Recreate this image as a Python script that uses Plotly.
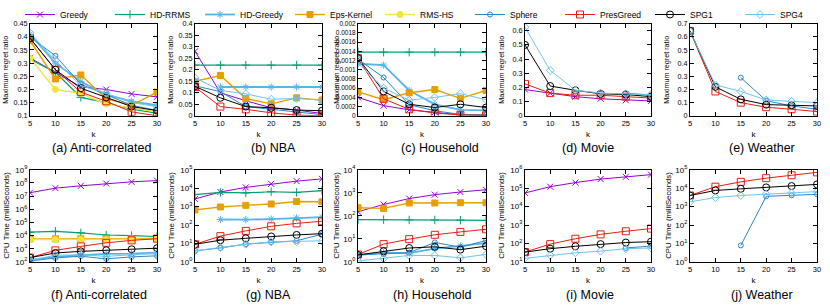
import plotly.graph_objects as go

K = [5, 10, 15, 20, 25, 30]
SERIES = ["Greedy", "HD-RRMS", "HD-Greedy", "Eps-Kernel", "RMS-HS",
          "Sphere", "PresGreed", "SPG1", "SPG4"]
N = None

# ---- Maximum regret ratio (top row) ----
mrr_anti = {
    "Greedy":     [0.32, 0.265, 0.21, 0.2, 0.183, 0.172],
    "HD-RRMS":    [0.315, 0.265, 0.17, 0.15, 0.125, 0.11],
    "HD-Greedy":  [0.41, 0.3, 0.23, 0.18, 0.155, 0.14],
    "Eps-Kernel": [0.385, 0.24, 0.255, 0.165, 0.14, 0.19],
    "RMS-HS":     [0.32, 0.2, 0.185, 0.145, 0.13, 0.115],
    "Sphere":     [0.4, 0.328, 0.22, 0.18, 0.14, 0.12],
    "PresGreed":  [0.395, 0.275, 0.19, 0.155, 0.115, 0.1],
    "SPG1":       [0.395, 0.275, 0.205, 0.17, 0.135, 0.12],
    "SPG4":       [0.415, 0.31, 0.215, 0.185, 0.15, 0.135],
}
mrr_nba = {
    "Greedy":     [0.28, 0.1, 0.065, 0.035, 0.025, 0.01],
    "HD-RRMS":    [0.22, 0.22, 0.22, 0.22, 0.22, 0.22],
    "HD-Greedy":  [N, 0.125, 0.125, 0.125, 0.125, 0.125],
    "Eps-Kernel": [0.15, 0.175, 0.075, 0.052, 0.078, 0.068],
    "RMS-HS":     [N, N, N, N, N, N],
    "Sphere":     [0.13, 0.105, 0.04, 0.028, 0.015, 0.005],
    "PresGreed":  [0.125, 0.04, 0.028, 0.013, 0.003, 0.0],
    "SPG1":       [0.128, 0.078, 0.04, 0.035, 0.025, 0.022],
    "SPG4":       [0.165, 0.11, 0.095, 0.072, 0.075, 0.068],
}
mrr_house = {
    "Greedy":     [0.0004, 0.00022, 0.00013, 0.00008, 0.00002, 0.00001],
    "HD-RRMS":    [0.00138, 0.00138, 0.00138, 0.00138, 0.00138, 0.00138],
    "HD-Greedy":  [0.00113, 0.0011, 0.00055, 0.00025, 0.00013, 0.00012],
    "Eps-Kernel": [0.00052, 0.00035, 0.0005, 0.00057, 0.00038, 0.00055],
    "RMS-HS":     [N, N, N, N, N, N],
    "Sphere":     [0.00123, 0.00083, 0.00024, 0.00011, 0.00003, 0.00002],
    "PresGreed":  [0.00125, 0.00037, 0.00014, 0.00006, 0.00002, 0.00001],
    "SPG1":       [0.00125, 0.00053, 0.00025, 0.00018, 0.00025, 0.00018],
    "SPG4":       [0.00115, 0.0006, 0.00034, 0.0004, 0.00048, 0.00035],
}
mrr_movie = {
    "Greedy":     [0.185, 0.16, 0.135, 0.12, 0.11, 0.105],
    "Sphere":     [N, N, N, N, 0.16, 0.145],
    "PresGreed":  [0.225, 0.16, 0.145, 0.145, 0.135, 0.125],
    "SPG1":       [0.5, 0.21, 0.18, 0.155, 0.15, 0.135],
    "SPG4":       [0.625, 0.32, 0.18, 0.16, 0.155, 0.15],
}
mrr_weather = {
    "Sphere":     [N, N, 0.29, 0.115, 0.075, 0.05],
    "PresGreed":  [0.645, 0.185, 0.1, 0.065, 0.05, 0.032],
    "SPG1":       [0.645, 0.22, 0.125, 0.085, 0.08, 0.075],
    "SPG4":       [0.64, 0.235, 0.185, 0.12, 0.11, 0.1],
}

# ---- CPU time in milliseconds (bottom row) ----
cpu_anti = {
    "Greedy":     [1.8e7, 4e7, 6e7, 9e7, 1.2e8, 1.5e8],
    "HD-RRMS":    [1.8e4, 2.1e4, 1.6e4, 1.1e4, 1.0e4, 8.5e3],
    "HD-Greedy":  [140, 240, 320, 400, 420, 500],
    "Eps-Kernel": [5500, 5600, 5600, 5600, 5600, 6000],
    "RMS-HS":     [5000, 5000, 5100, 5000, 5000, 5200],
    "Sphere":     [115, 200, 270, 170, 240, 290],
    "PresGreed":  [210, 750, 1500, 2800, 4300, 5800],
    "SPG1":       [210, 475, 630, 760, 900, 1100],
    "SPG4":       [130, 320, 350, 260, 350, 420],
}
cpu_nba = {
    "Greedy":     [2600, 6200, 1.1e4, 1.7e4, 2.4e4, 3.2e4],
    "HD-RRMS":    [4500, 5900, 5500, 6400, 5900, 7300],
    "HD-Greedy":  [N, 200, 195, 210, 245, 265],
    "Eps-Kernel": [660, 950, 1170, 1380, 1900, 1820],
    "RMS-HS":     [N, N, N, N, N, N],
    "Sphere":     [4, 5.7, 9.2, 11.7, 14, 32],
    "PresGreed":  [9, 25, 48, 85, 123, 160],
    "SPG1":       [9, 15, 19, 24, 29, 34],
    "SPG4":       [4, 6, 9, 12, 12.5, 14],
}
cpu_house = {
    "Greedy":     [150, 310, 560, 830, 1080, 1350],
    "HD-RRMS":    [68, 68, 66, 66, 65, 63],
    "HD-Greedy":  [2.0, 2.5, 2.4, 3.8, 5.0, 6.5],
    "Eps-Kernel": [225, 210, 360, 360, 370, 370],
    "RMS-HS":     [N, N, N, N, N, N],
    "Sphere":     [2.0, 2.2, 2.5, 7.0, 4.3, 8.5],
    "PresGreed":  [2.1, 5.9, 9.7, 15, 20, 26],
    "SPG1":       [2.0, 2.9, 4.0, 4.5, 3.4, 4.8],
    "SPG4":       [1.1, 1.4, 1.9, 1.9, 1.5, 2.1],
}
cpu_movie = {
    "Greedy":     [5.5e4, 1.2e5, 2e5, 3.1e5, 4.1e5, 5.4e5],
    "Sphere":     [N, N, N, N, 57, 72],
    "PresGreed":  [34, 92, 180, 310, 460, 640],
    "SPG1":       [34, 52, 70, 92, 112, 125],
    "SPG4":       [15.6, 23, 31, 38, 52, 57],
}
cpu_weather = {
    "Sphere":     [N, N, 7.8, 3600, 4100, 4600],
    "PresGreed":  [4000, 1.2e4, 2.2e4, 3.5e4, 5e4, 7.2e4],
    "SPG1":       [4000, 7500, 9200, 1.1e4, 1.3e4, 1.6e4],
    "SPG4":       [1800, 3100, 4000, 4800, 5500, 6500],
}

CAPTIONS = ["(a) Anti-correlated", "(b) NBA", "(c) Household", "(d) Movie", "(e) Weather",
            "(f) Anti-correlated", "(g) NBA", "(h) Household", "(i) Movie", "(j) Weather"]
PANELS = [mrr_anti, mrr_nba, mrr_house, mrr_movie, mrr_weather,
          cpu_anti, cpu_nba, cpu_house, cpu_movie, cpu_weather]
Y_TITLES = ["Maximum regret ratio", "CPU Time (milliSeconds)"]

# y ticks for top row
YT_TOP = [
    [0.1, 0.15, 0.2, 0.25, 0.3, 0.35, 0.4, 0.45],
    [0, 0.05, 0.1, 0.15, 0.2, 0.25, 0.3, 0.35, 0.4],
    [0, 0.0002, 0.0004, 0.0006, 0.0008, 0.001, 0.0012, 0.0014, 0.0016, 0.0018, 0.002],
    [0, 0.1, 0.2, 0.3, 0.4, 0.5, 0.6],
    [0, 0.1, 0.2, 0.3, 0.4, 0.5, 0.6, 0.7],
]
YT_TOP_TEXT = [
    ["0.1", "0.15", "0.2", "0.25", "0.3", "0.35", "0.4", "0.45"],
    ["0", "0.05", "0.1", "0.15", "0.2", "0.25", "0.3", "0.35", "0.4"],
    ["0", "0.0002", "0.0004", "0.0006", "0.0008", "0.001", "0.0012", "0.0014", "0.0016", "0.0018", "0.002"],
    ["0", "0.1", "0.2", "0.3", "0.4", "0.5", "0.6"],
    ["0", "0.1", "0.2", "0.3", "0.4", "0.5", "0.6", "0.7"],
]
YR_TOP = [[0.1, 0.45], [0, 0.4], [0, 0.002], [0, 0.65], [0, 0.7]]
# log decades for bottom row
DEC_BOTTOM = [[2, 9], [0, 5], [0, 4], [1, 6], [0, 5]]

STYLE = {
    "Greedy":     dict(color="#9400D3", symbol="x-thin-open", size=6, width=1),
    "HD-RRMS":    dict(color="#009E73", symbol="cross-thin-open", size=6, width=1.2),
    "HD-Greedy":  dict(color="#56B4E9", symbol="asterisk-open", size=6, width=1.8),
    "Eps-Kernel": dict(color="#E69F00", symbol="square", size=6, width=1.4),
    "RMS-HS":     dict(color="#F0E442", symbol="circle", size=6, width=1.4),
    "Sphere":     dict(color="#2A86C8", symbol="circle-open", size=5, width=1),
    "PresGreed":  dict(color="#E51E10", symbol="square-open", size=7, width=1),
    "SPG1":       dict(color="#000000", symbol="circle-open", size=7, width=1),
    "SPG4":       dict(color="#6EC3F0", symbol="diamond-open", size=6, width=1),
}

W, H = 830, 306
COLS = [(30, 157), (195, 322), (358, 486), (525, 651), (690, 817)]
ROWS = [(18, 112), (167, 261)]
CAP_X = [[101, 273, 440, 588, 762], [99, 268, 432, 590, 762]]
CAP_Y = [145, 295]
YTITLE_X = [[6, 171, 337, 502, 667], [7, 172, 337, 502, 669]]
FONT = "Liberation Sans, Arial, sans-serif"

fig = go.Figure()
layout = {}
annotations = []
for p, data in enumerate(PANELS):
    r, c = divmod(p, 5)
    n = p + 1
    xs = "x" if n == 1 else f"x{n}"
    ys = "y" if n == 1 else f"y{n}"
    for name in SERIES:
        if name not in data:
            continue
        st = STYLE[name]
        fig.add_trace(go.Scatter(
            x=K, y=data[name], xaxis=xs, yaxis=ys, name=name,
            mode="lines+markers", legendgroup=name, showlegend=(p == 0),
            line=dict(color=st["color"], width=st["width"]),
            marker=dict(symbol=st["symbol"], size=st["size"], color=st["color"],
                        line=dict(color=st["color"], width=1)),
            connectgaps=False,
        ))
    x0, x1 = COLS[c]
    yt, yb = ROWS[r]
    common = dict(showline=True, linecolor="black", linewidth=1, mirror="ticks",
                  ticks="inside", ticklen=4, tickwidth=0.8, tickcolor="black",
                  showgrid=False, zeroline=False, automargin=False)
    layout["xaxis" if n == 1 else f"xaxis{n}"] = dict(
        domain=[x0 / W, x1 / W], anchor=ys, range=[5, 30],
        tickvals=K, ticktext=[str(k) for k in K],
        tickfont=dict(size=7.5, color="black", family=FONT),
        title=dict(text="k", font=dict(size=8, family=FONT, color="black"), standoff=4),
        **common)
    if r == 0:
        ya = dict(range=YR_TOP[c], tickvals=YT_TOP[c], ticktext=YT_TOP_TEXT[c],
                  tickfont=dict(size=(6.5 if c == 2 else 7.2), color="black", family=FONT))
    else:
        lo, hi = DEC_BOTTOM[c]
        ya = dict(type="log", range=[lo, hi],
                  tickvals=[10 ** e for e in range(lo, hi + 1)],
                  ticktext=[f"10<sup>{e}</sup>" for e in range(lo, hi + 1)],
                  tickfont=dict(size=8, color="black", family=FONT))
    layout["yaxis" if n == 1 else f"yaxis{n}"] = dict(
        domain=[1 - yb / H, 1 - yt / H], anchor=xs, **ya, **common)
    annotations.append(dict(
        text=CAPTIONS[p], x=CAP_X[r][c] / W, y=1 - CAP_Y[r] / H,
        xref="paper", yref="paper", showarrow=False, xanchor="center", yanchor="middle",
        font=dict(size=12.5, family=FONT, color="black")))
    annotations.append(dict(
        text=Y_TITLES[r], x=YTITLE_X[r][c] / W, y=1 - (yt + yb) / 2 / H,
        xref="paper", yref="paper", showarrow=False, xanchor="center", yanchor="middle",
        textangle=-90, font=dict(size=(7.2 if r == 0 else 7.8), family=FONT, color="black")))

fig.update_layout(
    width=W, height=H, margin=dict(l=0, r=0, t=0, b=0),
    paper_bgcolor="white", plot_bgcolor="white",
    font=dict(family=FONT, color="black"),
    legend=dict(orientation="h", x=60 / W, y=1.02, xanchor="left", yanchor="top",
                entrywidth=45, entrywidthmode="pixels", itemwidth=30,
                font=dict(size=8.5, family=FONT, color="black"),
                bgcolor="rgba(0,0,0,0)", tracegroupgap=0),
    annotations=annotations,
    **layout,
)

fig.write_html("out.html", config={"displayModeBar": False},
               post_script="document.body.style.margin='0';")
